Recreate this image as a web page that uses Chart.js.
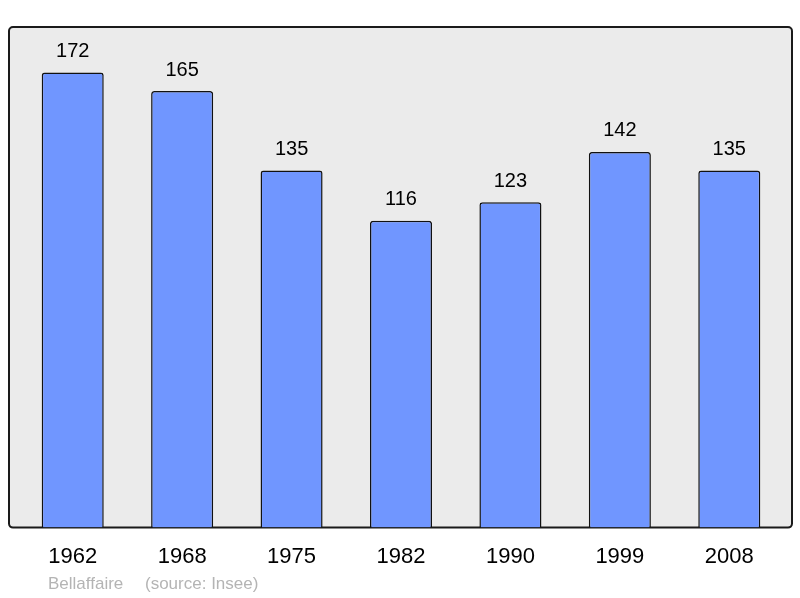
<!DOCTYPE html>
<html>
<head>
<meta charset="utf-8">
<script src="https://cdn.jsdelivr.net/npm/chart.js@4/dist/chart.umd.min.js"></script>
<style>
  html, body { margin: 0; padding: 0; background: #fff; }
  #wrap { width: 800px; height: 598px; position: relative; }
</style>
</head>
<body>
<div id="wrap"><canvas id="graph"></canvas></div>
<script>
const annees = ['1962', '1968', '1975', '1982', '1990', '1999', '2008'];
const population = [172, 165, 135, 116, 123, 142, 135];
const commune = 'Bellaffaire';
const source = '(source: Insee)';

// fond gris encadré derrière les barres
const fondCadre = {
    id: 'fondCadre',
    beforeDatasetsDraw(chart) {
        const { ctx, chartArea: a } = chart;
        const x = a.left - 9, y = a.top, w = a.right - a.left + 17, h = a.bottom - a.top;
        ctx.save();
        ctx.beginPath();
        ctx.roundRect(x, y, w, h, 4);
        ctx.fillStyle = '#ebebeb';
        ctx.fill();
        ctx.lineWidth = 2;
        ctx.strokeStyle = '#1a1a1a';
        ctx.stroke();
        ctx.restore();
    }
};

// valeurs au-dessus des barres + légende source
const etiquettes = {
    id: 'etiquettes',
    afterDatasetsDraw(chart) {
        const { ctx } = chart;
        ctx.save();
        ctx.fillStyle = '#000';
        ctx.font = '20px "Liberation Sans", Arial, sans-serif';
        ctx.textAlign = 'center';
        ctx.textBaseline = 'middle';
        chart.getDatasetMeta(0).data.forEach((bar, i) => {
            ctx.fillText(population[i], bar.x, bar.y - 21);
        });
        ctx.fillStyle = '#b4b4b4';
        ctx.font = '17px "Liberation Sans", Arial, sans-serif';
        ctx.textAlign = 'left';
        ctx.fillText(commune, 48, 584);
        ctx.fillText(source, 145, 584);
        ctx.restore();
    }
};

new Chart(document.getElementById('graph'), {
    type: 'bar',
    data: {
        labels: annees,
        datasets: [{
            data: population,
            backgroundColor: '#7096ff',
            borderColor: '#111',
            borderWidth: 1.5,
            borderRadius: 3,
            borderSkipped: 'bottom',
            barPercentage: 0.567,
            categoryPercentage: 1
        }]
    },
    options: {
        responsive: true,
        maintainAspectRatio: false,
        animation: false,
        layout: { padding: { top: 27, left: 18, right: 16, bottom: 12 } },
        plugins: { legend: { display: false }, tooltip: { enabled: false } },
        scales: {
            y: { display: false, min: 0, max: 189.2 },
            x: {
                grid: { display: false, drawTicks: false },
                border: { display: false },
                ticks: {
                    color: '#000',
                    padding: 16,
                    font: { size: 22, family: '"Liberation Sans", Arial, sans-serif' }
                }
            }
        }
    },
    plugins: [fondCadre, etiquettes]
});
</script>
</body>
</html>
